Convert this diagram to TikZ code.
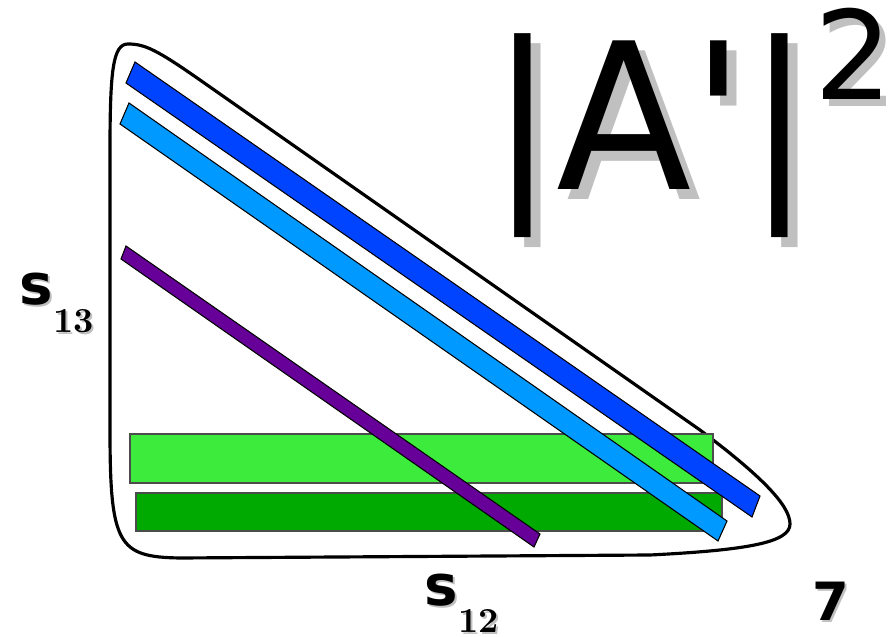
\documentclass[tikz,border=0pt]{standalone}
\usepackage{fontspec}
\newfontfamily\dejavu{DejaVu Sans}
\definecolor{bandblue}{RGB}{0,68,255}
\definecolor{bandsky}{RGB}{0,153,255}
\definecolor{bandpurple}{RGB}{102,0,153}
\definecolor{bandlime}{RGB}{61,235,61}
\definecolor{bandgreen}{RGB}{0,170,0}
\definecolor{ghostgray}{RGB}{192,192,192}
\newcommand{\lowsub}[1]{\raisebox{-0.27cm}{\rmfamily\bfseries\fontsize{10}{10}\selectfont #1}}

\begin{document}
\begin{tikzpicture}[x=0.01cm, y=-0.01cm,
  border/.style={draw=black, line width=0.9pt},
  band/.style={draw=black, line width=0.3pt},
  strip/.style={draw=black!70, line width=0.3pt},
  bigtxt/.style={anchor=base west, inner sep=0pt, font=\dejavu\fontsize{58}{58}\selectfont},
  suptxt/.style={anchor=base west, inner sep=0pt, font=\dejavu\fontsize{35}{35}\selectfont},
  axislab/.style={anchor=base west, inner sep=0pt, font=\dejavu\bfseries\fontsize{16}{16}\selectfont},
  numlab/.style={anchor=base west, inner sep=0pt, font=\dejavu\bfseries\fontsize{15}{15}\selectfont},
  ghost/.style={text=ghostgray}
]
  \useasboundingbox (0,0) rectangle (888,637);

  % phase space boundary
  \draw[border] (110,150) -- (110,430)
    .. controls (110,545) and (118,557) .. (180,558) -- (650,555)
    .. controls (750,550) and (790,542) .. (790,524)
    .. controls (790,505) and (760,475) .. (700,430) -- (200,80)
    .. controls (157,50) and (145,44) .. (128,44)
    .. controls (113,44) and (110,70) .. (110,150) -- cycle;

  % horizontal resonance bands
  \draw[strip, fill=bandlime]  (130,434) rectangle (713,483);
  \draw[strip, fill=bandgreen] (136,493) rectangle (722,531);

  % diagonal bands
  \draw[band, fill=bandblue]   (135,62) -- (760,496) -- (752,517) -- (126,83) -- cycle;
  \draw[band, fill=bandsky]    (129,103) -- (727,521) -- (718,541) -- (120,124) -- cycle;
  \draw[band, fill=bandpurple] (126,246) -- (540,534) -- (534,547) -- (121,259) -- cycle;

  % labels
  \node[bigtxt, ghost] (ampghost) at (499,200) {\scalebox{0.97}[1]{|A'|}};
  \node[bigtxt]        (amp)      at (489,190) {\scalebox{0.97}[1]{|A'|}};
  \node[suptxt, ghost] (powghost) at (820,107) {2};
  \node[suptxt]        (pow)      at (814,100) {2};

  \node[axislab, ghost] (sxzghost) at (21,307) {s\lowsub{13}};
  \node[axislab]        (sxz)      at (19,305) {s\lowsub{13}};
  \node[axislab, ghost] (sxyghost) at (426,607) {s\lowsub{12}};
  \node[axislab]        (sxy)      at (424,605) {s\lowsub{12}};
  \node[numlab, ghost]  (sevenghost) at (814,622) {7};
  \node[numlab]         (seven)      at (812,620) {7};

\end{tikzpicture}
\end{document}
